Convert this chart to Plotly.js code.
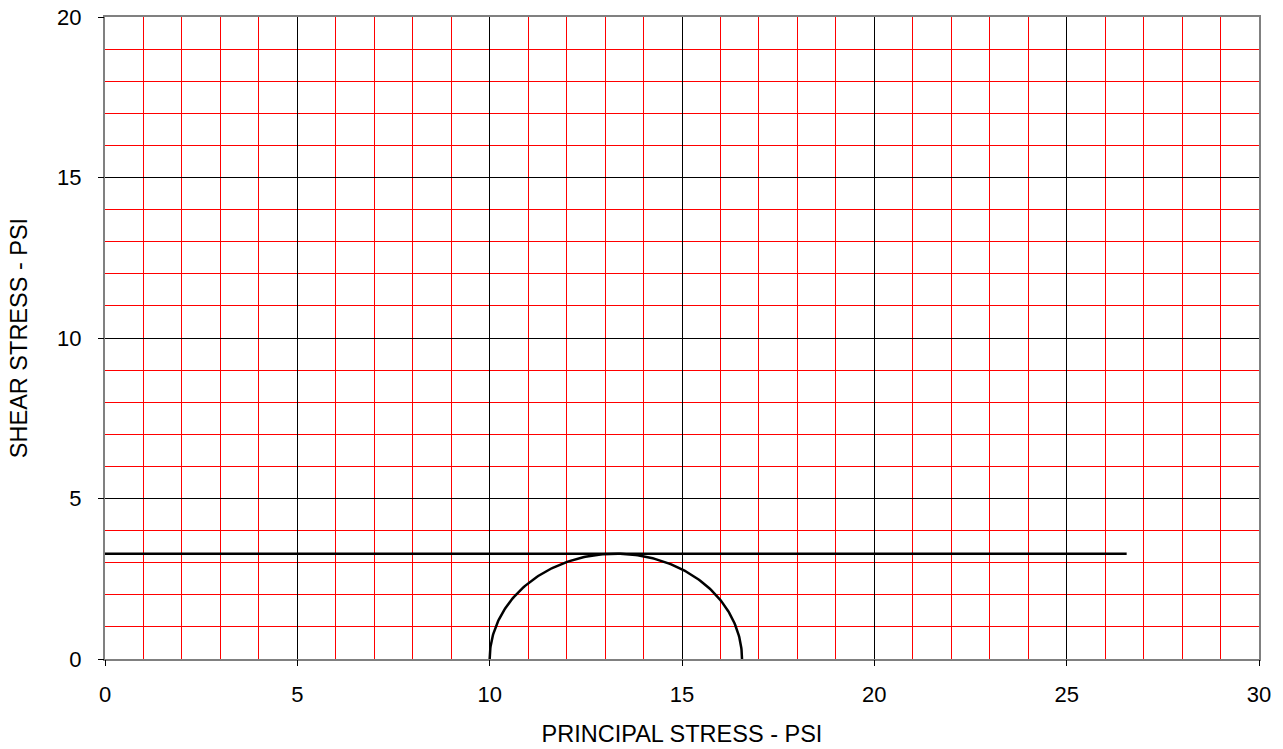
<!DOCTYPE html>
<html>
<head>
<meta charset="utf-8">
<script src="https://cdn.plot.ly/plotly-3.0.1.min.js"></script>
<style>html,body{margin:0;padding:0;background:#fff;}#chart{width:1283px;height:749px;}</style>
</head>
<body>
<div id="chart"></div>
<script>
// Principal stresses (PSI) defining Mohr's circle
const sigma3 = 10.0;
const sigma1 = 16.56;
// Failure envelope (horizontal line, shear strength)
const envelopeX = [0, 26.56];
const envelopeY = [3.28, 3.28];

// Mohr's circle (upper half) from the two principal stresses
const center = (sigma1 + sigma3) / 2;
const radius = (sigma1 - sigma3) / 2;
const circleX = [], circleY = [];
for (let i = 0; i <= 180; i++) {
  const a = Math.PI - i * Math.PI / 180;
  circleX.push(center + radius * Math.cos(a));
  circleY.push(radius * Math.sin(a));
}

const titleFont = {family: 'Liberation Sans, Arial, sans-serif', size: 23.5, color: '#000'};
const tickFont = {family: 'Liberation Sans, Arial, sans-serif', size: 22, color: '#000'};

const traces = [
  {x: envelopeX, y: envelopeY, mode: 'lines', line: {color: '#000', width: 2.5}, hoverinfo: 'skip'},
  {x: circleX, y: circleY, mode: 'lines', line: {color: '#000', width: 2.5}, hoverinfo: 'skip'}
];

const layout = {
  width: 1283, height: 749,
  margin: {l: 105, r: 24, t: 17, b: 90},
  paper_bgcolor: '#fff', plot_bgcolor: '#fff',
  showlegend: false,
  font: tickFont,
  // minor (red) grid on the main axes
  xaxis: {
    range: [0, 30], dtick: 1, tick0: 0,
    showgrid: true, gridcolor: '#ff0000', gridwidth: 1,
    showline: true, linecolor: '#808080', linewidth: 2, mirror: true,
    ticks: '', showticklabels: false, zeroline: false
  },
  yaxis: {
    range: [0, 20], dtick: 1, tick0: 0,
    showgrid: true, gridcolor: '#ff0000', gridwidth: 1,
    showline: true, linecolor: '#808080', linewidth: 2, mirror: true,
    ticks: '', showticklabels: false, zeroline: false
  },
  // major (black) grid, ticks, labels and titles on overlay axes
  xaxis2: {
    overlaying: 'x', anchor: 'y', side: 'bottom',
    range: [0, 30], dtick: 5, tick0: 0,
    showgrid: true, gridcolor: '#000', gridwidth: 1,
    showline: false, zeroline: false,
    ticks: 'outside', ticklen: 6, tickcolor: '#000', tickwidth: 1,
    ticklabelstandoff: 10,
    tickfont: tickFont,
    title: {text: 'PRINCIPAL STRESS - PSI', font: titleFont, standoff: 19}
  },
  yaxis2: {
    overlaying: 'y', anchor: 'x', side: 'left',
    range: [0, 20], dtick: 5, tick0: 0,
    showgrid: true, gridcolor: '#000', gridwidth: 1,
    showline: false, zeroline: false,
    ticks: 'outside', ticklen: 6, tickcolor: '#000', tickwidth: 1,
    ticklabelstandoff: 12,
    tickfont: tickFont,
    title: {text: 'SHEAR STRESS - PSI', font: titleFont, standoff: 22}
  }
};

// invisible trace to activate the overlay axes
traces.unshift({x: [0], y: [0], xaxis: 'x2', yaxis: 'y2', mode: 'markers', marker: {opacity: 0}, hoverinfo: 'skip'});

Plotly.newPlot('chart', traces, layout, {displayModeBar: false, staticPlot: true});
</script>
</body>
</html>
